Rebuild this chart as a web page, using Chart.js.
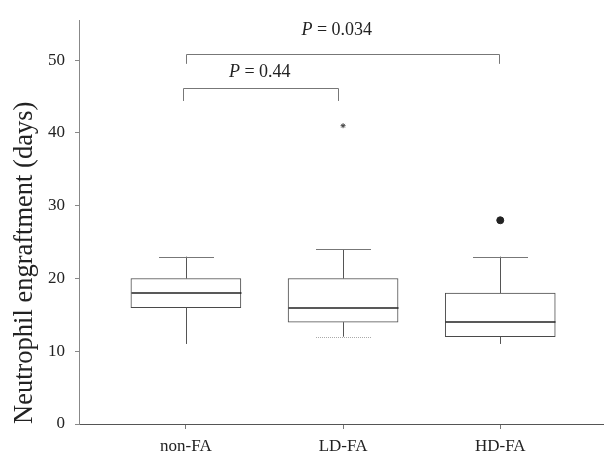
<!DOCTYPE html>
<html>
<head>
<meta charset="utf-8">
<script src="https://cdn.jsdelivr.net/npm/chart.js@4.4.1/dist/chart.umd.min.js"></script>
<style>
  html, body { margin: 0; padding: 0; background: #fff; overflow: hidden; }
  #wrap { width: 604px; height: 452px; }
</style>
</head>
<body>
<div id="wrap"><canvas id="box-chart"></canvas></div>
<script>
// groups on the x axis
const groups = ["non-FA", "LD-FA", "HD-FA"];
const groupPos = [1, 2, 3];

// box plot stats (days)
const whiskerLow = [11, 12, 11];
const q1 = [16, 14, 12];
const median = [18, 16, 14];
const q3 = [20, 20, 18];
const whiskerHigh = [23, 24, 23];

// outliers
const starOutliers = [{x: 2, y: 41}];
const dotOutliers = [{x: 3, y: 28}];

const yTicks = [0, 10, 20, 30, 40, 50];

// p-value brackets (in data units)
const pValues = ["0.034", "0.44"];
const bracketFrom = [1.0, 0.98];
const bracketTo = [2.99, 1.97];
const bracketTop = [50.9, 46.2];
const bracketLeg = [49.5, 44.4];
const pLabelX = [1.96, 1.47];
const pLabelY = [54.1, 48.3];

const SERIF = '"Liberation Serif", "Times New Roman", serif';
const lowCapShown = [false, true, false];

function crisp(v) { return Math.round(v) + 0.5; }

// whiskers, caps, medians and the p brackets
const boxParts = {
  id: 'boxParts',
  afterDatasetsDraw(chart) {
    const {ctx, scales: {x, y}} = chart;
    const boxW = 110, capW = 55;
    ctx.save();
    groupPos.forEach((g, i) => {
      const cx = crisp(x.getPixelForValue(g));
      // whiskers
      ctx.strokeStyle = '#555';
      ctx.lineWidth = 1;
      ctx.setLineDash([]);
      ctx.beginPath();
      ctx.moveTo(cx, y.getPixelForValue(q3[i]));
      ctx.lineTo(cx, y.getPixelForValue(whiskerHigh[i]));
      ctx.moveTo(cx, y.getPixelForValue(q1[i]));
      ctx.lineTo(cx, y.getPixelForValue(whiskerLow[i]));
      ctx.stroke();
      // upper cap
      const yh = crisp(y.getPixelForValue(whiskerHigh[i]));
      ctx.strokeStyle = '#777';
      ctx.beginPath();
      ctx.moveTo(cx - capW / 2, yh);
      ctx.lineTo(cx + capW / 2, yh);
      ctx.stroke();
      // lower cap, dotted
      if (lowCapShown[i]) {
        const yl = crisp(y.getPixelForValue(whiskerLow[i]));
        ctx.strokeStyle = '#aaa';
        ctx.setLineDash([1, 1]);
        ctx.beginPath();
        ctx.moveTo(cx - capW / 2, yl);
        ctx.lineTo(cx + capW / 2, yl);
        ctx.stroke();
        ctx.setLineDash([]);
      }
      // median
      const ym = Math.round(y.getPixelForValue(median[i]));
      ctx.strokeStyle = '#222';
      ctx.lineWidth = 1.6;
      ctx.beginPath();
      ctx.moveTo(cx - boxW / 2, ym);
      ctx.lineTo(cx + boxW / 2, ym);
      ctx.stroke();
    });

    // brackets with P labels
    ctx.lineWidth = 1;
    ctx.strokeStyle = '#777';
    pValues.forEach((p, i) => {
      const x1 = crisp(x.getPixelForValue(bracketFrom[i]));
      const x2 = crisp(x.getPixelForValue(bracketTo[i]));
      const yt = crisp(y.getPixelForValue(bracketTop[i]));
      const yl = y.getPixelForValue(bracketLeg[i]);
      ctx.beginPath();
      ctx.moveTo(x1, yl);
      ctx.lineTo(x1, yt);
      ctx.lineTo(x2, yt);
      ctx.lineTo(x2, yl);
      ctx.stroke();

      const rest = ' = ' + p;
      ctx.font = 'italic 18px ' + SERIF;
      const wP = ctx.measureText('P').width;
      ctx.font = '18px ' + SERIF;
      const wR = ctx.measureText(rest).width;
      const tx = x.getPixelForValue(pLabelX[i]) - (wP + wR) / 2;
      const ty = y.getPixelForValue(pLabelY[i]);
      ctx.fillStyle = '#222';
      ctx.textBaseline = 'middle';
      ctx.textAlign = 'left';
      ctx.font = 'italic 18px ' + SERIF;
      ctx.fillText('P', tx, ty);
      ctx.font = '18px ' + SERIF;
      ctx.fillText(rest, tx + wP, ty);
    });
    ctx.restore();
  }
};

new Chart(document.getElementById("box-chart"), {
  type: 'bar',
  data: {
    datasets: [
      {
        label: "IQR",
        data: groupPos.map((g, i) => ({x: g, y: [q1[i], q3[i]]})),
        backgroundColor: '#fff',
        borderColor: '#4a4a4a',
        borderWidth: 1,
        borderSkipped: false,
        barThickness: 110
      },
      {
        type: 'scatter',
        label: "extreme",
        data: starOutliers,
        pointStyle: 'star',
        radius: 2.5,
        borderColor: '#444',
        borderWidth: 1
      },
      {
        type: 'scatter',
        label: "outlier",
        data: dotOutliers,
        pointStyle: 'circle',
        radius: 3.5,
        backgroundColor: '#222',
        borderColor: '#222'
      }
    ]
  },
  options: {
    responsive: true,
    maintainAspectRatio: false,
    animation: false,
    layout: { autoPadding: false, padding: { top: 15, right: 0, bottom: 0, left: 0 } },
    plugins: {
      legend: { display: false },
      tooltip: { enabled: false }
    },
    scales: {
      x: {
        type: 'linear',
        min: 0.32,
        max: 3.66,
        offset: false,
        afterBuildTicks: s => { s.ticks = groupPos.map(v => ({value: v})); },
        afterFit: s => { s.height = 28; s.paddingLeft = 0; s.paddingRight = 0; },
        ticks: {
          callback: v => groups[groupPos.indexOf(v)],
          font: { family: SERIF, size: 17 },
          color: '#222',
          padding: 7,
          maxRotation: 0,
          autoSkip: false
        },
        grid: { offset: false, drawOnChartArea: false, tickLength: 5, color: '#777' },
        border: { color: '#555', width: 1 }
      },
      y: {
        min: 0,
        max: 55.5,
        afterBuildTicks: s => { s.ticks = yTicks.map(v => ({value: v})); },
        afterFit: s => { s.width = 79; },
        ticks: {
          font: { family: SERIF, size: 17 },
          color: '#222',
          padding: 10
        },
        grid: { drawOnChartArea: false, tickLength: 4, color: '#888' },
        border: { color: '#888', width: 1 },
        title: {
          display: true,
          text: 'Neutrophil engraftment (days)',
          align: 'start',
          font: { family: SERIF, size: 26.5 },
          color: '#222',
          padding: { top: 9, bottom: 0 }
        }
      }
    }
  },
  plugins: [boxParts]
});
</script>
</body>
</html>
